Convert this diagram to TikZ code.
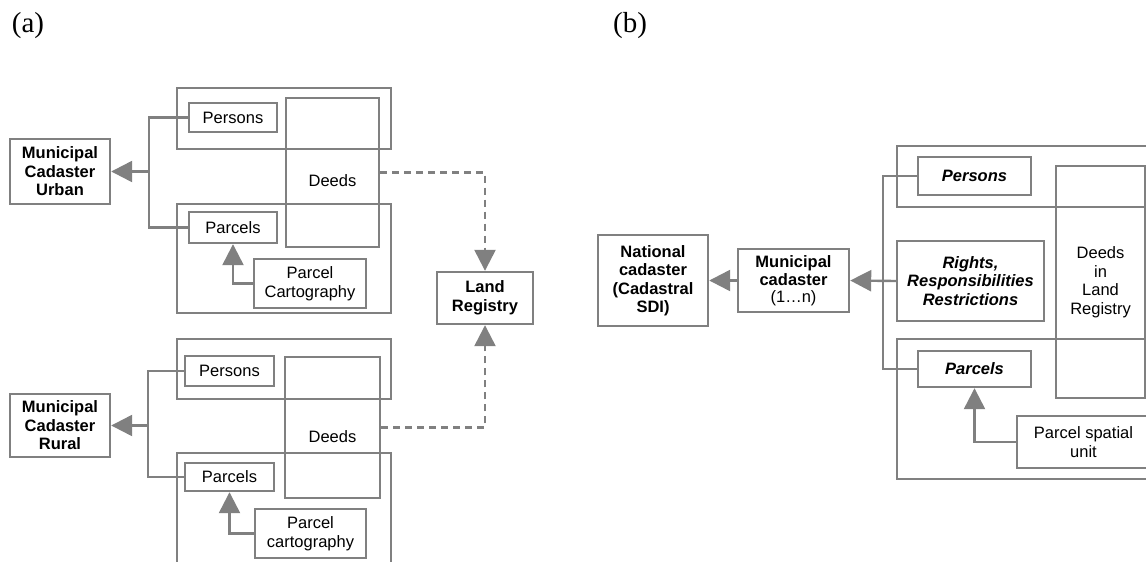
\documentclass[tikz,border=0pt]{standalone}
\usepackage{fontspec}
\setmainfont{Liberation Sans}
\newfontfamily\capfont{Liberation Serif}
\usetikzlibrary{arrows.meta}
\definecolor{lgray}{RGB}{128,128,128}
\tikzset{
  box/.style={draw=lgray, line width=2.4pt, inner sep=0pt, align=center,
    font=\fontsize{16.5}{18.5}\selectfont},
  bbox/.style={box, font=\fontsize{16.5}{18.5}\selectfont\bfseries},
  ibox/.style={box, font=\fontsize{16.5}{18.5}\selectfont\bfseries\itshape},
  grp/.style={draw=lgray, line width=2.4pt},
  wire/.style={draw=lgray, line width=2.4pt},
  link/.style={wire, -{Triangle[width=21pt,length=21pt]}},
  dlink/.style={link, dash pattern=on 7pt off 5pt},
  tag/.style={font=\capfont\fontsize{29}{30}\selectfont}
}
\begin{document}
\begin{tikzpicture}[x=1pt,y=-1pt]
  %%%%% START %%%%%
  \useasboundingbox (0,0) rectangle (1146,562);
  \clip (0,0) rectangle (1146,562);

  \node[tag] (tagA) at (28,26) {(a)};
  \node[tag] (tagB) at (630,26) {(b)};

  % (a) urban
  \draw[grp] (177,88) rectangle (391,149);
  \draw[grp] (177,204) rectangle (391,313);
  \node[bbox, minimum width=100pt, minimum height=65pt] (mcu) at (60,171.5) {Municipal\\Cadaster\\Urban};
  \node[box, minimum width=88pt, minimum height=29pt] (persU) at (233,117.5) {Persons};
  \node[box, minimum width=93pt, minimum height=149pt,
    label={[font=\fontsize{16.5}{18.5}\selectfont, yshift=-8.5pt]center:Deeds}] (deedsU) at (332.5,172.5) {};
  \node[box, minimum width=88pt, minimum height=31pt] (parU) at (233,227.5) {Parcels};
  \node[box, minimum width=112pt, minimum height=49pt] (cartU) at (310,283.5) {Parcel\\Cartography};
  \coordinate (jU) at (149,171.5);
  \draw[wire] (persU.west) -| (jU) |- (parU.west);
  \draw[link] (jU) -- (mcu.east);
  \draw[link] (cartU.west) -| (parU.south);

  \node[bbox, minimum width=96pt, minimum height=52pt] (land) at (485,298) {Land\\Registry};

  % (a) rural
  \draw[grp] (177,339) rectangle (391,399);
  \draw[grp] (177,570) |- (391,453) -- (391,570);
  \node[bbox, minimum width=100pt, minimum height=63pt] (mcr) at (60,425.5) {Municipal\\Cadaster\\Rural};
  \node[box, minimum width=89pt, minimum height=30pt] (persR) at (229.5,371) {Persons};
  \node[box, minimum width=95pt, minimum height=141pt,
    label={[font=\fontsize{16.5}{18.5}\selectfont, yshift=-9.5pt]center:Deeds}] (deedsR) at (332.5,427.5) {};
  \node[box, minimum width=89pt, minimum height=28pt] (parR) at (229.5,477) {Parcels};
  \node[box, minimum width=111pt, minimum height=49pt] (cartR) at (310.5,533.5) {Parcel\\cartography};
  \coordinate (jR) at (148,425.5);
  \draw[wire] (persR.west) -| (jR) |- (parR.west);
  \draw[link] (jR) -- (mcr.east);
  \draw[link] (cartR.west) -| (parR.south);

  \draw[dlink] (deedsU.east) -| (land.north);
  \draw[dlink] (deedsR.east) -| (land.south);

  % (b)
  \draw[grp] (897,146) rectangle (1160,207);
  \draw[grp] (897,339) rectangle (1160,479);
  \node[bbox, minimum width=110pt, minimum height=91pt] (nat) at (653,280.5) {National\\cadaster\\(Cadastral\\SDI)};
  \node[bbox, minimum width=111pt, minimum height=63pt] (mun) at (793.5,280.5) {Municipal\\cadaster\\[-2pt]{\mdseries (1\dots n)}};
  \node[ibox, minimum width=113pt, minimum height=38pt] (persB) at (974.5,176) {Persons};
  \node[box, minimum width=89pt, minimum height=232pt] (deedsB) at (1100.5,282) {Deeds\\in\\Land\\Registry};
  \node[ibox, minimum width=147pt, minimum height=80pt] (rights) at (970.5,281) {Rights,\\Responsibilities\\Restrictions};
  \node[ibox, minimum width=113pt, minimum height=36pt] (parB) at (974.5,369) {Parcels};
  \node[box, minimum width=133pt, minimum height=52pt] (unit) at (1083.5,442) {Parcel spatial\\unit};
  \coordinate (jB) at (883,281);
  \draw[wire] (persB.west) -| (jB) |- (parB.west);
  \draw[link] (rights.west) -- (mun.east);
  \draw[link] (mun.west) -- (nat.east);
  \draw[link] (unit.west) -| (parB.south);
  %%%%% END %%%%%
\end{tikzpicture}
\end{document}
